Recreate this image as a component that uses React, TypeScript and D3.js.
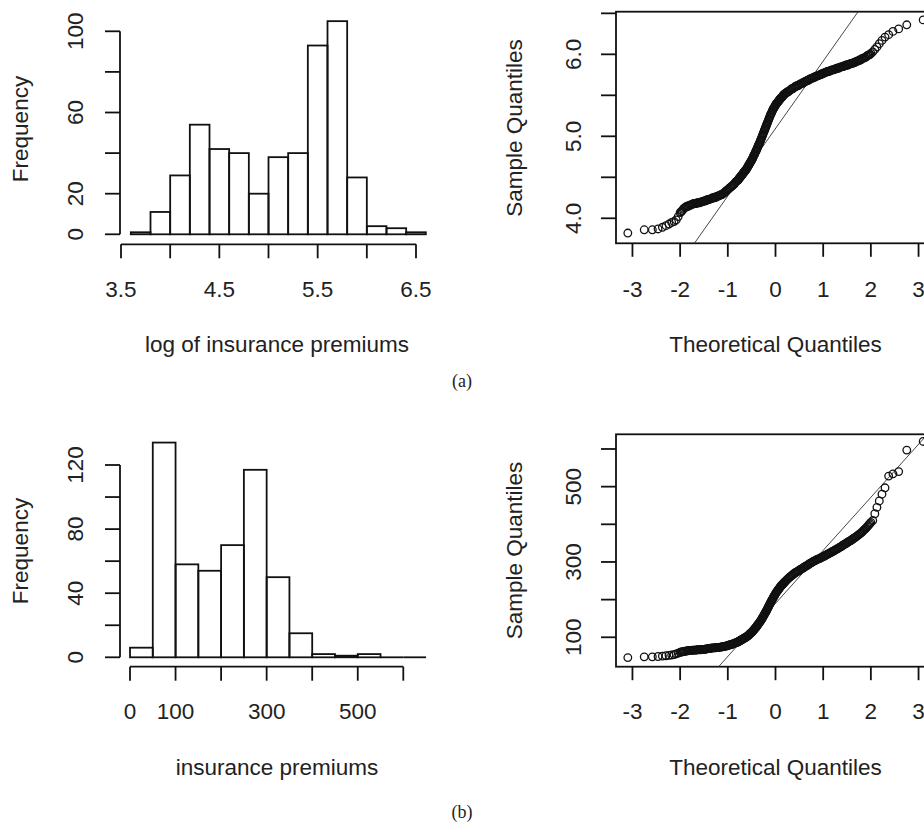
import React from 'react'
import * as d3 from 'd3'

// ---- histogram (a): log of insurance premiums ----
const logBreaks = [3.6, 3.8, 4.0, 4.2, 4.4, 4.6, 4.8, 5.0, 5.2, 5.4, 5.6, 5.8, 6.0, 6.2, 6.4, 6.6]
const logCounts = [1, 11, 29, 54, 42, 40, 20, 38, 40, 93, 105, 28, 4, 3, 1]
const logHistXTicks = [3.5, 4, 4.5, 5, 5.5, 6, 6.5]
const logHistXLabels = ['3.5', '4.5', '5.5', '6.5']
const logHistYTicks = [0, 20, 40, 60, 80, 100]
const logHistYLabels = [0, 20, 60, 100]

// ---- histogram (b): insurance premiums ----
const premiumBreaks = [0, 50, 100, 150, 200, 250, 300, 350, 400, 450, 500, 550, 600, 650]
const premiumCounts = [6, 134, 58, 54, 70, 117, 50, 15, 2, 1, 2, 0, 0]
const premiumHistXTicks = [0, 100, 200, 300, 400, 500, 600]
const premiumHistXLabels = ['0', '100', '300', '500']
const premiumHistYTicks = [0, 20, 40, 60, 80, 100, 120]
const premiumHistYLabels = [0, 40, 80, 120]

// ---- normal Q-Q plots ----
const qqXTicks = [-3, -2, -1, 0, 1, 2, 3]
const logQQYTicks = [4.0, 4.5, 5.0, 5.5, 6.0, 6.5]
const logQQYLabels = ['4.0', '5.0', '6.0']
const premiumQQYTicks = [100, 200, 300, 400, 500, 600]
const premiumQQYLabels = ['100', '300', '500']

// sample quantiles, theoretical quantile -2 .. 2 every 0.02
const qqBandStart = -2
const qqBandStep = 0.02
const logQQBand = [
  4.07, 4.08, 4.09, 4.11, 4.12, 4.13, 4.14, 4.14, 4.15, 4.15,
  4.16, 4.16, 4.17, 4.17, 4.18, 4.18, 4.18, 4.18, 4.19, 4.19,
  4.19, 4.19, 4.2, 4.2, 4.21, 4.21, 4.21, 4.22, 4.22, 4.23,
  4.23, 4.23, 4.24, 4.24, 4.25, 4.25, 4.25, 4.26, 4.26, 4.27,
  4.27, 4.28, 4.28, 4.29, 4.29, 4.3, 4.31, 4.32, 4.33, 4.34,
  4.35, 4.36, 4.37, 4.38, 4.39, 4.4, 4.41, 4.42, 4.44, 4.45,
  4.46, 4.47, 4.49, 4.5, 4.52, 4.53, 4.55, 4.56, 4.58, 4.59,
  4.61, 4.63, 4.65, 4.67, 4.69, 4.71, 4.73, 4.76, 4.78, 4.81,
  4.83, 4.86, 4.89, 4.91, 4.94, 4.97, 5.0, 5.03, 5.06, 5.09,
  5.12, 5.15, 5.18, 5.21, 5.24, 5.27, 5.29, 5.32, 5.34, 5.36,
  5.38, 5.4, 5.41, 5.43, 5.44, 5.46, 5.47, 5.48, 5.5, 5.51,
  5.52, 5.53, 5.54, 5.54, 5.55, 5.56, 5.57, 5.58, 5.58, 5.59,
  5.6, 5.61, 5.61, 5.62, 5.62, 5.63, 5.64, 5.64, 5.65, 5.65,
  5.66, 5.67, 5.67, 5.68, 5.68, 5.69, 5.7, 5.7, 5.71, 5.71,
  5.72, 5.72, 5.73, 5.73, 5.74, 5.74, 5.75, 5.75, 5.76, 5.76,
  5.77, 5.77, 5.78, 5.78, 5.79, 5.79, 5.79, 5.8, 5.8, 5.81,
  5.81, 5.81, 5.82, 5.82, 5.83, 5.83, 5.83, 5.84, 5.84, 5.85,
  5.85, 5.85, 5.86, 5.86, 5.87, 5.87, 5.87, 5.88, 5.88, 5.89,
  5.89, 5.89, 5.9, 5.9, 5.91, 5.91, 5.92, 5.92, 5.93, 5.93,
  5.94, 5.95, 5.95, 5.96, 5.96, 5.97, 5.98, 5.99, 5.99, 6.0,
  6.01,
]
const premiumQQBand = [
  60, 61, 61, 62, 62, 63, 63, 64, 64, 65,
  65, 65, 65, 66, 66, 66, 66, 66, 67, 67,
  67, 67, 67, 68, 68, 68, 68, 69, 69, 70,
  70, 70, 71, 71, 72, 72, 72, 72, 73, 73,
  73, 73, 74, 74, 75, 75, 76, 76, 77, 77,
  78, 79, 80, 80, 81, 82, 83, 84, 85, 86,
  87, 88, 90, 91, 93, 94, 96, 97, 99, 100,
  102, 104, 106, 109, 111, 113, 116, 119, 122, 125,
  128, 132, 135, 139, 142, 146, 150, 155, 159, 164,
  168, 173, 178, 183, 188, 193, 198, 202, 207, 211,
  216, 220, 223, 227, 230, 234, 237, 240, 242, 245,
  248, 250, 253, 255, 258, 260, 262, 264, 266, 268,
  270, 272, 273, 275, 276, 278, 280, 281, 283, 284,
  286, 288, 289, 291, 292, 294, 296, 297, 299, 300,
  302, 303, 304, 306, 307, 308, 309, 310, 312, 313,
  314, 315, 317, 318, 320, 321, 322, 324, 325, 327,
  328, 329, 331, 332, 334, 335, 337, 338, 340, 341,
  343, 345, 346, 348, 349, 351, 353, 354, 356, 357,
  359, 361, 363, 364, 366, 368, 370, 372, 374, 376,
  378, 380, 383, 385, 388, 390, 393, 396, 399, 402,
  405,
]

// the steep middle part is denser: extra readings at -0.79 .. 0.19 every 0.02
const qqSteepStart = -0.79
const qqSteepStep = 0.02
const logQQSteep = [
  4.465, 4.48, 4.495, 4.51, 4.525, 4.54, 4.555, 4.57, 4.585, 4.6,
  4.62, 4.64, 4.66, 4.68, 4.7, 4.72, 4.745, 4.77, 4.795, 4.82,
  4.845, 4.875, 4.9, 4.925, 4.955, 4.985, 5.015, 5.045, 5.075, 5.105,
  5.135, 5.165, 5.195, 5.225, 5.255, 5.28, 5.305, 5.33, 5.35, 5.37,
  5.39, 5.405, 5.42, 5.435, 5.45, 5.465, 5.475, 5.49, 5.505, 5.515,
]
const premiumQQSteep = [
  87.5, 89, 90.5, 92, 93.5, 95, 96.5, 98, 99.5, 101,
  103, 105, 107.5, 110, 112, 114.5, 117.5, 120.5, 123.5, 126.5,
  130, 133.5, 137, 140.5, 144, 148, 152.5, 157, 161.5, 166,
  170.5, 175.5, 180.5, 185.5, 190.5, 195.5, 200, 204.5, 209, 213.5,
  218, 221.5, 225, 228.5, 232, 235.5, 238.5, 241, 243.5, 246.5,
]

// the separate circles in both tails
const qqLowerTailQ = [-3.097, -2.753, -2.583, -2.463, -2.372, -2.297, -2.233, -2.177, -2.127, -2.082, -2.041]
const logLowerTail = [3.82, 3.86, 3.86, 3.87, 3.89, 3.91, 3.93, 3.95, 3.96, 3.98, 4.02]
const premiumLowerTail = [46, 48, 48, 49, 50, 51, 52, 53, 54, 56, 58]
const qqUpperTailQ = [2.04, 2.083, 2.127, 2.177, 2.233, 2.297, 2.373, 2.463, 2.583, 2.753, 3.097]
const logUpperTail = [6.03, 6.06, 6.09, 6.13, 6.17, 6.21, 6.24, 6.28, 6.31, 6.36, 6.42]
const premiumUpperTail = [410, 428, 445, 462, 480, 497, 528, 534, 540, 597, 620]

// first and third quartiles used by qqline
const logQuartiles = [4.54, 5.65]
const premiumQuartiles = [95, 285]
const qnorm25 = -0.6745

const FONT = '"Liberation Sans", Arial, Helvetica, sans-serif'
const SERIF = '"Liberation Serif", "Times New Roman", serif'
const INK = '#111'
const TEXT = '#222'
const FS = 22.5
const LW = 1.8

const qqPoints = (band, steep, lowerTail, upperTail) => [
  ...qqLowerTailQ.map((q, i) => [q, lowerTail[i]]),
  ...band.map((v, i) => [qqBandStart + i * qqBandStep, v]),
  ...steep.map((v, i) => [qqSteepStart + i * qqSteepStep, v]),
  ...qqUpperTailQ.map((q, i) => [q, upperTail[i]]),
]

const Histogram = ({ breaks, counts, x, y, xTicks, xLabels, yTicks, yLabels, axisX, axisY, tickLabelY, title, titleY, freqY }) => {
  const y0 = y(0)
  return (
    <g>
      {counts.map((c, i) =>
        c === 0 ? (
          <line key={i} x1={x(breaks[i])} x2={x(breaks[i + 1])} y1={y0} y2={y0} stroke={INK} strokeWidth={LW} />
        ) : (
          <rect
            key={i}
            x={x(breaks[i])}
            y={y(c)}
            width={x(breaks[i + 1]) - x(breaks[i])}
            height={y0 - y(c)}
            fill="none"
            stroke={INK}
            strokeWidth={LW}
          />
        ),
      )}
      {/* y axis */}
      <line x1={axisX} x2={axisX} y1={y(yTicks[0])} y2={y(yTicks[yTicks.length - 1])} stroke={INK} strokeWidth={LW} />
      {yTicks.map((t) => (
        <line key={t} x1={axisX - 15} x2={axisX} y1={y(t)} y2={y(t)} stroke={INK} strokeWidth={LW} />
      ))}
      {yLabels.map((t) => (
        <text key={t} transform={`translate(82.5,${y(t)}) rotate(-90)`} textAnchor="middle" fontSize={FS} fontFamily={FONT} fill={TEXT}>
          {t}
        </text>
      ))}
      {/* x axis */}
      <line x1={x(xTicks[0])} x2={x(xTicks[xTicks.length - 1])} y1={axisY} y2={axisY} stroke={INK} strokeWidth={LW} />
      {xTicks.map((t) => (
        <line key={t} x1={x(t)} x2={x(t)} y1={axisY} y2={axisY + 14} stroke={INK} strokeWidth={LW} />
      ))}
      {xLabels.map((t) => (
        <text key={t} x={x(+t)} y={tickLabelY} textAnchor="middle" fontSize={FS} fontFamily={FONT} fill={TEXT}>
          {t}
        </text>
      ))}
      <text x={277} y={titleY} textAnchor="middle" fontSize={FS} fontFamily={FONT} fill={TEXT}>
        {title}
      </text>
      <text transform={`translate(27.5,${freqY}) rotate(-90)`} textAnchor="middle" fontSize={FS} fontFamily={FONT} fill={TEXT}>
        Frequency
      </text>
    </g>
  )
}

const QQPlot = ({ id, points, quartiles, x, y, yTicks, yLabels, tickLabelY, titleY, sampleY }) => {
  const [left, right] = x.range()
  const [bottom, top] = y.range()
  const slope = (quartiles[1] - quartiles[0]) / (-2 * qnorm25)
  const intercept = quartiles[0] - slope * qnorm25
  const [qa, qb] = x.domain()
  return (
    <g>
      <defs>
        <clipPath id={id}>
          <rect x={left} y={top} width={right - left} height={bottom - top} />
        </clipPath>
      </defs>
      <rect x={left} y={top} width={right - left} height={bottom - top} fill="none" stroke={INK} strokeWidth={LW} />
      <line
        clipPath={`url(#${id})`}
        x1={x(qa)}
        y1={y(intercept + slope * qa)}
        x2={x(qb)}
        y2={y(intercept + slope * qb)}
        stroke="#333"
        strokeWidth={0.9}
      />
      {points.map(([q, v], i) => (
        <circle key={i} cx={x(q)} cy={y(v)} r={3.8} fill="none" stroke={INK} strokeWidth={1.3} />
      ))}
      {qqXTicks.map((t) => (
        <g key={t}>
          <line x1={x(t)} x2={x(t)} y1={bottom} y2={bottom + 13.5} stroke={INK} strokeWidth={LW} />
          <text x={x(t)} y={tickLabelY} textAnchor="middle" fontSize={FS} fontFamily={FONT} fill={TEXT}>
            {t}
          </text>
        </g>
      ))}
      {yTicks.map((t) => (
        <line key={t} x1={left - 15} x2={left} y1={y(t)} y2={y(t)} stroke={INK} strokeWidth={LW} />
      ))}
      {yLabels.map((t) => (
        <text key={t} transform={`translate(580.5,${y(+t)}) rotate(-90)`} textAnchor="middle" fontSize={FS} fontFamily={FONT} fill={TEXT}>
          {t}
        </text>
      ))}
      <text x={775.5} y={titleY} textAnchor="middle" fontSize={FS} fontFamily={FONT} fill={TEXT}>
        Theoretical Quantiles
      </text>
      <text transform={`translate(521.5,${sampleY}) rotate(-90)`} textAnchor="middle" fontSize={FS} fontFamily={FONT} fill={TEXT}>
        Sample Quantiles
      </text>
    </g>
  )
}

const App = () => {
  const logHistX = d3.scaleLinear().domain([3.5, 6.5]).range([121, 416])
  const logHistY = d3.scaleLinear().domain([0, 100]).range([234.3, 31.3])
  const premHistX = d3.scaleLinear().domain([0, 600]).range([130, 403.3])
  const premHistY = d3.scaleLinear().domain([0, 120]).range([657.3, 465])

  const qqX = d3.scaleLinear().domain([-3.345, 3.345]).range([616, 935])
  const logQQY = d3.scaleLinear().domain([3.695, 6.52]).range([243.3, 11.7])
  const premQQY = d3.scaleLinear().domain([21.9, 639]).range([666.7, 434.3])

  return (
    <svg
      width={924}
      height={827}
      style={{ position: 'absolute', left: 0, top: 0, background: '#fff' }}
    >
      <rect width={924} height={827} fill="#fff" />
      <Histogram
        breaks={logBreaks}
        counts={logCounts}
        x={logHistX}
        y={logHistY}
        xTicks={logHistXTicks}
        xLabels={logHistXLabels}
        yTicks={logHistYTicks}
        yLabels={logHistYLabels}
        axisX={120}
        axisY={244.3}
        tickLabelY={296.5}
        title="log of insurance premiums"
        titleY={352}
        freqY={129}
      />
      <QQPlot
        id="clip-a"
        points={qqPoints(logQQBand, logQQSteep, logLowerTail, logUpperTail)}
        quartiles={logQuartiles}
        x={qqX}
        y={logQQY}
        yTicks={logQQYTicks}
        yLabels={logQQYLabels}
        tickLabelY={296.5}
        titleY={352}
        sampleY={128}
      />
      <text x={462} y={386.5} textAnchor="middle" fontSize={18} fontFamily={SERIF} fill={TEXT}>
        (a)
      </text>

      <Histogram
        breaks={premiumBreaks}
        counts={premiumCounts}
        x={premHistX}
        y={premHistY}
        xTicks={premiumHistXTicks}
        xLabels={premiumHistXLabels}
        yTicks={premiumHistYTicks}
        yLabels={premiumHistYLabels}
        axisX={120}
        axisY={666.7}
        tickLabelY={719}
        title="insurance premiums"
        titleY={774.5}
        freqY={551}
      />
      <QQPlot
        id="clip-b"
        points={qqPoints(premiumQQBand, premiumQQSteep, premiumLowerTail, premiumUpperTail)}
        quartiles={premiumQuartiles}
        x={qqX}
        y={premQQY}
        yTicks={premiumQQYTicks}
        yLabels={premiumQQYLabels}
        tickLabelY={719}
        titleY={774.5}
        sampleY={550.5}
      />
      <text x={462} y={817.5} textAnchor="middle" fontSize={18} fontFamily={SERIF} fill={TEXT}>
        (b)
      </text>
    </svg>
  )
}

export default App
